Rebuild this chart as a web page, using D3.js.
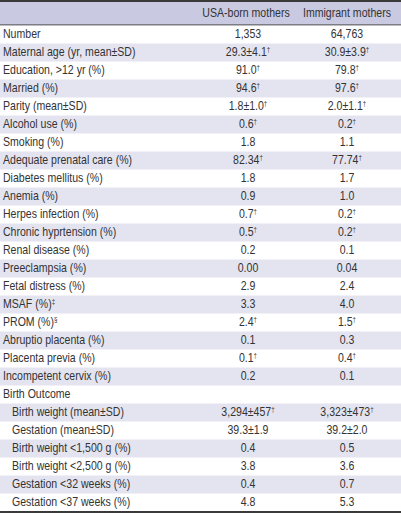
<!DOCTYPE html>
<html>
<head>
<meta charset="utf-8">
<script src="https://cdn.jsdelivr.net/npm/d3@7"></script>
<style>
html, body { margin: 0; padding: 0; background: #fff; }
svg { display: block; }
</style>
</head>
<body>
<svg id="chart" width="401" height="515"></svg>
<script>
// ---- data ----
const columnHeaders = ["USA-born mothers", "Immigrant mothers"];
const rowLabels = [
  "Number", "Maternal age (yr, mean\u00B1SD)", "Education, >12 yr (%)", "Married (%)",
  "Parity (mean\u00B1SD)", "Alcohol use (%)", "Smoking (%)", "Adequate prenatal care (%)",
  "Diabetes mellitus (%)", "Anemia (%)", "Herpes infection (%)", "Chronic hyprtension (%)",
  "Renal disease (%)", "Preeclampsia (%)", "Fetal distress (%)", "MSAF (%)", "PROM (%)",
  "Abruptio placenta (%)", "Placenta previa (%)", "Incompetent cervix (%)", "Birth Outcome",
  "Birth weight (mean\u00B1SD)", "Gestation (mean\u00B1SD)", "Birth weight <1,500 g (%)",
  "Birth weight <2,500 g (%)", "Gestation <32 weeks (%)", "Gestation <37 weeks (%)"
];
const labelNotes = ["", "", "", "", "", "", "", "", "", "", "", "", "", "", "", "\u2021", "\u00A7", "", "", "", "", "", "", "", "", "", ""];
const rowIndent = [0,0,0,0,0,0,0,0,0,0,0,0,0,0,0,0,0,0,0,0,0,1,1,1,1,1,1];
const usaValues = [
  "1,353", "29.3\u00B14.1", "91.0", "94.6", "1.8\u00B11.0", "0.6", "1.8", "82.34",
  "1.8", "0.9", "0.7", "0.5", "0.2", "0.00", "2.9", "3.3", "2.4", "0.1", "0.1", "0.2", "",
  "3,294\u00B1457", "39.3\u00B11.9", "0.4", "3.8", "0.4", "4.8"
];
const usaSig = [0,1,1,1,1,1,0,1,0,0,1,1,0,0,0,0,1,0,1,0,0,1,0,0,0,0,0];
const immValues = [
  "64,763", "30.9\u00B13.9", "79.8", "97.6", "2.0\u00B11.1", "0.2", "1.1", "77.74",
  "1.7", "1.0", "0.2", "0.2", "0.1", "0.04", "2.4", "4.0", "1.5", "0.3", "0.4", "0.1", "",
  "3,323\u00B1473", "39.2\u00B12.0", "0.5", "3.6", "0.7", "5.3"
];
const immSig = [0,1,1,1,1,1,0,1,0,0,1,1,0,0,0,0,1,0,1,0,0,1,0,0,0,0,0];

// ---- layout ----
const W = 401, H = 515;
const svg = d3.select("#chart");
const font = "'Liberation Sans', Arial, sans-serif";
const textColor = "#333333";
const k = 0.88;      // horizontal condensing of the text
const fs = 12;

const headerTop = 2, headerBottom = 24.5, tableBottom = 511.5;
const y = d3.scaleBand().domain(d3.range(rowLabels.length)).range([25.5, tableBottom]).padding(0);
const colX = d3.scaleOrdinal().domain([0, 1]).range([248, 347]);
const headerX = d3.scaleOrdinal().domain([0, 1]).range([246, 347]);

// header background
svg.append("rect").attr("x", 0).attr("y", headerTop).attr("width", W).attr("height", headerBottom - headerTop)
  .attr("fill", "#c9c9e1");
// row shading
svg.append("g").selectAll("rect").data(d3.range(rowLabels.length).filter(i => i % 2 === 1)).join("rect")
  .attr("x", 0).attr("y", i => y(i)).attr("width", W).attr("height", y.bandwidth())
  .attr("fill", "#e4e4f0");

// rules
svg.append("rect").attr("x", 0).attr("y", 0).attr("width", W).attr("height", 2).attr("fill", "#3a3a3a");
svg.append("rect").attr("x", 0).attr("y", headerBottom - 0.5).attr("width", W).attr("height", 1.5).attr("fill", "#7c7c84");
svg.append("rect").attr("x", 0).attr("y", tableBottom - 0.5).attr("width", W).attr("height", 2).attr("fill", "#3a3a3a");

const tg = svg.append("g").attr("transform", `scale(${k},1)`);

// header text
tg.append("g").selectAll("text").data(columnHeaders).join("text")
  .attr("x", (d, i) => headerX(i) / k).attr("y", 17.5)
  .attr("text-anchor", "middle").attr("font-family", font).attr("font-size", fs)
  .attr("fill", textColor).text(d => d);

// row labels
const lbl = tg.append("g").selectAll("text").data(rowLabels).join("text")
  .attr("x", (d, i) => (rowIndent[i] ? 12 : 3) / k).attr("y", (d, i) => y(i) + 12.9)
  .attr("font-family", font).attr("font-size", fs).attr("fill", textColor);
lbl.append("tspan").text(d => d);
lbl.each(function(d, i) {
  if (labelNotes[i]) d3.select(this).append("tspan").attr("font-size", 7).attr("dy", -4).text(labelNotes[i]);
});

// values
function drawCol(values, sig, ci) {
  const t = tg.append("g").selectAll("text").data(values).join("text")
    .attr("x", colX(ci) / k).attr("y", (d, i) => y(i) + 12.9)
    .attr("text-anchor", "middle").attr("font-family", font).attr("font-size", fs).attr("fill", textColor);
  t.append("tspan").text(d => d);
  t.each(function(d, i) {
    if (sig[i]) d3.select(this).append("tspan").attr("font-size", 7).attr("dy", -4).text("\u2020");
  });
}
drawCol(usaValues, usaSig, 0);
drawCol(immValues, immSig, 1);
</script>
</body>
</html>
